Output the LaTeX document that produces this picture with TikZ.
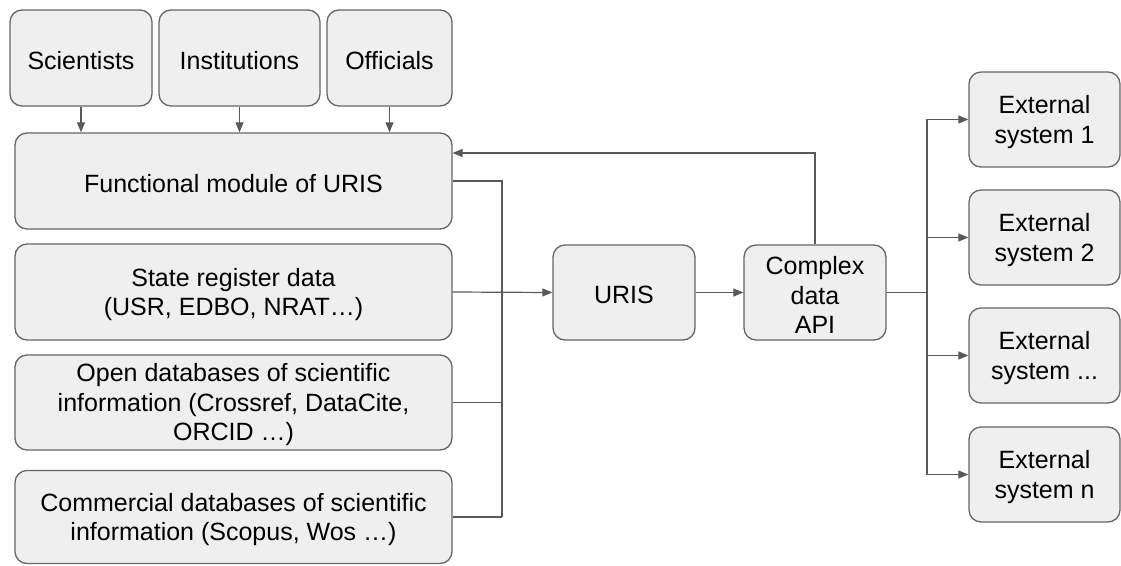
\documentclass[tikz,border=0pt]{standalone}
\usepackage{fontspec}
\setmainfont{Liberation Sans}
\usetikzlibrary{arrows.meta}
\definecolor{boxfill}{HTML}{EFEFEF}
\definecolor{boxline}{HTML}{666666}
\definecolor{arrline}{HTML}{595959}
\begin{document}
\begin{tikzpicture}[x=1pt,y=-1pt,
  box/.style={draw=boxline, fill=boxfill, line width=1.3pt, rounded corners=12pt, inner sep=0pt},
  txt/.style={align=center, inner sep=0pt, yshift=-2.5pt, font=\fontsize{25}{29.5}\selectfont},
  arr/.style={draw=arrline, line width=1.2pt, -{Triangle[length=10pt,width=8pt]}},
  ln/.style={draw=arrline, line width=1.2pt}]
\useasboundingbox (0,0) rectangle (1121,565);
\node[box, minimum width=142pt, minimum height=96pt, label={[txt]center:Scientists}] (sci) at (81,58) {};
\node[box, minimum width=161pt, minimum height=96pt, label={[txt]center:Institutions}] (inst) at (239.5,58) {};
\node[box, minimum width=125pt, minimum height=96pt, label={[txt]center:Officials}] (off) at (389.5,58) {};
\node[box, minimum width=437pt, minimum height=96pt, label={[txt]center:Functional module of URIS}] (func) at (233.5,181) {};
\node[box, minimum width=437pt, minimum height=96pt, label={[txt]center:{State register data\\(USR, EDBO, NRAT…)}}] (state) at (233.5,292) {};
\node[box, minimum width=437pt, minimum height=95pt, label={[txt]center:{Open databases of scientific\\information (Crossref, DataCite,\\ORCID …)}}] (open) at (233.5,402.5) {};
\node[box, minimum width=437pt, minimum height=93pt, label={[txt]center:{Commercial databases of scientific\\information (Scopus, Wos …)}}] (comm) at (233.5,517) {};
\node[box, minimum width=142pt, minimum height=95pt, label={[txt]center:URIS}] (uris) at (624,292.5) {};
\node[box, minimum width=142pt, minimum height=95pt, label={[txt]center:{Complex\\data\\API}}] (api) at (815,292.5) {};
\node[box, minimum width=151pt, minimum height=95pt, label={[txt]center:{External\\system 1}}] (e1) at (1044.5,119.5) {};
\node[box, minimum width=151pt, minimum height=95pt, label={[txt]center:{External\\system 2}}] (e2) at (1044.5,237.5) {};
\node[box, minimum width=151pt, minimum height=95pt, label={[txt]center:{External\\system ...}}] (e3) at (1044.5,355.5) {};
\node[box, minimum width=151pt, minimum height=95pt, label={[txt]center:{External\\system n}}] (en) at (1044.5,474.5) {};
\coordinate (bus) at (502,517);
\coordinate (fb) at (452.5,153);
\coordinate (rb) at (927,292.5);
% top arrows
\draw[arr] (sci.south) -- (sci.south |- func.north);
\draw[arr] (inst.south) -- (inst.south |- func.north);
\draw[arr] (off.south) -- (off.south |- func.north);
% bus to URIS
\draw[ln] (func.east) -| (bus);
\draw[ln] (comm.east) -- (bus);
\draw[ln] (open.east) -- (open.east -| bus);
\draw[arr] (state.east) -- (uris.west);
\draw[arr] (uris.east) -- (api.west);
% feedback
\draw[arr] (api.north) |- (fb);
% right fan-out
\draw[ln] (api.east) -- (rb);
\draw[arr] (rb) |- (e1.west);
\draw[arr] (rb) |- (e2.west);
\draw[arr] (rb) |- (e3.west);
\draw[arr] (rb) |- (en.west);
\end{tikzpicture}
\end{document}
